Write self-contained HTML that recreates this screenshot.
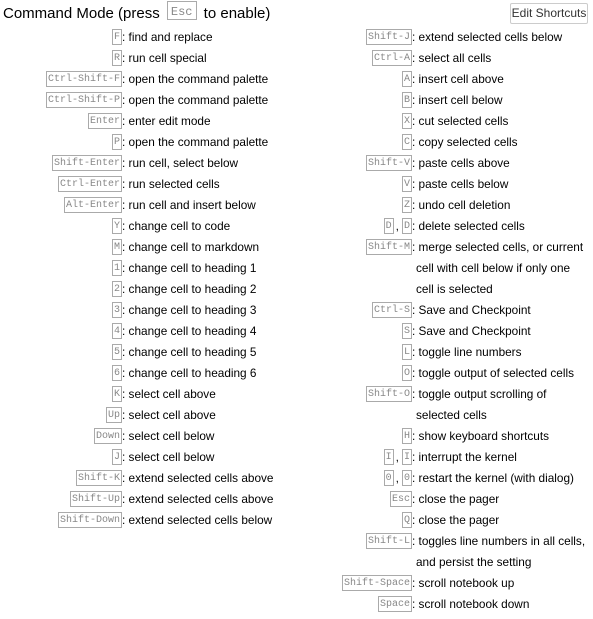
<!DOCTYPE html>
<html><head><meta charset="utf-8"><style>
body{margin:0;width:593px;height:619px;background:#fff;position:relative;overflow:hidden;font-family:"Liberation Sans",Arial,sans-serif;font-size:11.8px;color:#000;}
.title{position:absolute;left:3px;top:1px;font-size:15px;color:#000;white-space:nowrap;line-height:22px}
.title kbd{font-family:"Liberation Mono",monospace;font-size:12px;color:#888;border:1px solid #aaa;padding:0 3px;display:inline-block;height:17px;line-height:20px;margin:0 3px;vertical-align:-2px;overflow:hidden}
.btn{position:absolute;left:510px;top:3px;width:76px;height:19px;border:1px solid #ccc;border-radius:2px;font-size:12px;line-height:19px;text-align:center;color:#333;}
.r{position:absolute;height:16px;line-height:16px;white-space:nowrap}
.k{position:absolute;top:0;text-align:right;height:16px}
.d{position:absolute;top:0}
kbd.s{font-family:"Liberation Mono",monospace;font-size:10px;color:#888;border:1px solid #aaa;padding:0 1px;height:14px;line-height:16px;display:inline-block;vertical-align:top;overflow:hidden}
.L .k{left:0;width:122px}.L .d{left:122px}
.R .k{left:300px;width:112px}.R .d{left:412px}
.sep{color:#000;font-size:12px;margin:0 3px 0 2px;vertical-align:top;line-height:16px}
</style></head><body>
<div class="title">Command Mode (press <kbd>Esc</kbd> to enable)</div>
<div class="btn">Edit Shortcuts</div>
<div id="c"></div>
<script>
var L=[["F","find and replace"],["R","run cell special"],["Ctrl-Shift-F","open the command palette"],["Ctrl-Shift-P","open the command palette"],["Enter","enter edit mode"],["P","open the command palette"],["Shift-Enter","run cell, select below"],["Ctrl-Enter","run selected cells"],["Alt-Enter","run cell and insert below"],["Y","change cell to code"],["M","change cell to markdown"],["1","change cell to heading 1"],["2","change cell to heading 2"],["3","change cell to heading 3"],["4","change cell to heading 4"],["5","change cell to heading 5"],["6","change cell to heading 6"],["K","select cell above"],["Up","select cell above"],["Down","select cell below"],["J","select cell below"],["Shift-K","extend selected cells above"],["Shift-Up","extend selected cells above"],["Shift-Down","extend selected cells below"]];
var R=[["Shift-J","extend selected cells below"],["Ctrl-A","select all cells"],["A","insert cell above"],["B","insert cell below"],["X","cut selected cells"],["C","copy selected cells"],["Shift-V","paste cells above"],["V","paste cells below"],["Z","undo cell deletion"],["D,D","delete selected cells"],["Shift-M","merge selected cells, or current"],["","cell with cell below if only one"],["","cell is selected"],["Ctrl-S","Save and Checkpoint"],["S","Save and Checkpoint"],["L","toggle line numbers"],["O","toggle output of selected cells"],["Shift-O","toggle output scrolling of"],["","selected cells"],["H","show keyboard shortcuts"],["I,I","interrupt the kernel"],["0,0","restart the kernel (with dialog)"],["Esc","close the pager"],["Q","close the pager"],["Shift-L","toggles line numbers in all cells,"],["","and persist the setting"],["Shift-Space","scroll notebook up"],["Space","scroll notebook down"]];
function key(k){if(!k)return "";if(k.indexOf(",")>0){var p=k.split(",");return '<kbd class="s">'+p[0]+'</kbd><span class="sep">,</span><kbd class="s">'+p[1]+'</kbd>';}return '<kbd class="s">'+k+'</kbd>';}
var h="";
function col(a,c){for(var i=0;i<a.length;i++){var t=29+i*21;var k=a[i][0];
h+='<div class="r '+c+'" style="top:'+t+'px;left:0;width:593px"><div class="k">'+key(k)+'</div><div class="d" style="top:0px">'+(k?':&nbsp;':'<span style="margin-left:4px"></span>')+a[i][1]+'</div></div>';}}
col(L,"L");col(R,"R");
document.getElementById("c").innerHTML=h;
</script>
</body></html>
